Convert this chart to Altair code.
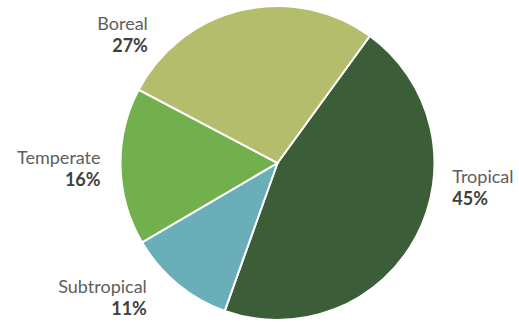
import math
import altair as alt
import pandas as pd

categories = ["Tropical", "Subtropical", "Temperate", "Boreal"]
shares = [45, 11, 16, 27]
pct_labels = ["45%", "11%", "16%", "27%"]
colors = ["#3b5e38", "#69aeb9", "#72b04e", "#b4bd6b"]
orders = [0, 1, 2, 3]

df = pd.DataFrame({"category": categories, "share": shares, "pct": pct_labels, "order": orders})
total = sum(shares)

start = math.radians(36)
theta_scale = alt.Scale(domain=[0, total], range=[start, start + 2 * math.pi])
color_scale = alt.Scale(domain=categories, range=colors)

base = alt.Chart(df)

arc = base.mark_arc(outerRadius=157, stroke="white", strokeWidth=2).encode(
    theta=alt.Theta("share:Q", stack=True, scale=theta_scale),
    color=alt.Color("category:N", scale=color_scale, legend=None),
    order=alt.Order("order:Q", sort="ascending"),
)

# label styling: (dx, dy name, dy pct, align)
label_style = {
    "Tropical": (20, -62, -40, "left"),
    "Subtropical": (-19, -5, 17, "right"),
    "Temperate": (-2, -3, 19, "right"),
    "Boreal": (-90, 37, 59, "right"),
}

stacked = base.transform_stack(
    stack="share", groupby=[], as_=["s0", "s1"], sort=[alt.SortField("order", order="ascending")]
).transform_calculate(mid="(datum.s0 + datum.s1) / 2")

layers = [arc]
for cat in categories:
    dx, dy1, dy2, align = label_style[cat]
    sub = stacked.transform_filter(alt.datum.category == cat)
    layers.append(
        sub.mark_text(radius=175, dx=dx, dy=dy1, align=align, baseline="alphabetic",
                      font="Lato", fontSize=18, color="#5e5e5e").encode(
            theta=alt.Theta("mid:Q", stack=None, scale=theta_scale),
            text="category:N",
        )
    )
    layers.append(
        sub.mark_text(radius=175, dx=dx, dy=dy2, align=align, baseline="alphabetic",
                      font="Lato", fontSize=18, fontWeight="bold", color="#404040").encode(
            theta=alt.Theta("mid:Q", stack=None, scale=theta_scale),
            text="pct:N",
        )
    )

chart = alt.layer(*layers).properties(
    width=483, height=320,
    padding={"left": 36, "top": 3, "right": 0, "bottom": 0},
    autosize=alt.AutoSizeParams(type="none"),
    background="white",
).configure_view(stroke=None)

chart.save("out.html", embed_options={"renderer": "svg", "actions": False})
